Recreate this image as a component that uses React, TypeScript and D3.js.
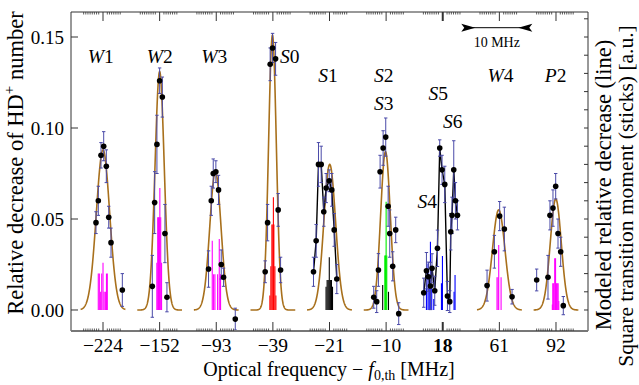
import React, { useEffect, useRef } from 'react';
import * as d3 from 'd3';

const W = 639;
const H = 385;
const FONT = "'Liberation Serif', 'Times New Roman', serif";

// segments of the broken frequency axis (MHz)
const segLabels = ['\u2212224', '\u2212152', '\u221293', '\u221239', '\u221221', '\u221210', '18', '61', '92'];

// modeled line (Gaussian): amplitude, centre offset [MHz], sigma [MHz]; null = no line
const lineAmp = [0.088, 0.131, 0.076, 0.151, 0.080, 0.087, null, 0.055, 0.061];
const lineCenter = [0, 0, -0.2, -0.1, 0.05, -0.15, null, -0.15, -0.05];
const lineSigma = [1.55, 1.07, 1.3, 0.9, 1.37, 1.12, null, 1.45, 1.28];

// measured points: [offset MHz, relative decrease, error]
const w1Points = [[-1.63, 0.048, 0.006], [-1.09, 0.060, 0.008], [-0.47, 0.085, 0.007], [0.16, 0.090, 0.008], [0.77, 0.079, 0.009], [1.33, 0.051, 0.006], [1.86, 0.037, 0.008], [4.49, 0.011, 0.009]];
const w2Points = [[-1.7, 0.013, 0.017], [-1.16, 0.059, 0.017], [-0.63, 0.091, 0.016], [0, 0.126, 0.007], [0.63, 0.117, 0.011], [1.23, 0.042, 0.016], [1.7, 0.007, 0.008]];
const w3Points = [[-1.79, 0.0225, 0.010], [-1.16, 0.060, 0.008], [-0.70, 0.075, 0.008], [-0.09, 0.076, 0.006], [0.53, 0.066, 0.008], [1.16, 0.025, 0.008], [1.70, 0.018, 0.005], [4.42, -0.005, 0.006]];
const s0Points = [[-1.79, 0.021, 0.006], [-1.23, 0.048, 0.010], [-0.63, 0.135, 0.009], [-0.07, 0.144, 0.008], [0.63, 0.138, 0.009], [1.23, 0.055, 0.009], [1.79, 0.022, 0.007]];
const s1Points = [[-3.72, 0.021, 0.008], [-3.10, 0.038, 0.009], [-2.56, 0.080, 0.012], [-1.93, 0.080, 0.010], [-1.33, 0.054, 0.008], [-0.77, 0.067, 0.008], [-0.07, 0.071, 0.006], [0.53, 0.066, 0.009], [1.09, 0.044, 0.009], [1.70, 0.017, 0.008]];
const s2Points = [[-2.88, 0.007, 0.006], [-2.19, 0.0046, 0.006], [-1.79, 0.022, 0.009], [-1.40, 0.076, 0.009], [-0.70, 0.089, 0.0095], [-0.09, 0.095, 0.0105], [0.47, 0.057, 0.011], [0.84, 0.042, 0.013], [1.53, 0.024, 0.008], [2.23, 0.044, 0.007], [2.93, -0.002, 0.006]];
const s4Points = [[-4.42, 0.0095, 0.008], [-3.79, 0.0216, 0.010], [-3.33, 0.0183, 0.008], [-2.86, 0.0132, 0.013], [-2.49, 0.0229, 0.008], [-1.86, 0.0106, 0.008], [-1.23, 0.0339, 0.010], [-0.70, 0.089, 0.0045], [-0.16, 0.077, 0.008], [0.47, 0.069, 0.010], [1.09, 0.0077, 0.008], [1.63, 0.0046, 0.006], [1.86, 0.043, 0.010], [2.16, 0.052, 0.010], [2.56, 0.077, 0.016], [2.95, 0.060, 0.010], [3.42, 0.052, 0.008]];
const w4Points = [[-2.86, 0.0134, 0.0085], [-1.16, 0.032, 0.009], [0.07, 0.0516, 0.008], [1.16, 0.0445, 0.012], [2.95, 0.0073, 0.004]];
const p2Points = [[-4.49, 0.0165, 0.006], [-1.86, 0.018, 0.012], [-1.40, 0.052, 0.008], [-0.70, 0.056, 0.010], [-0.07, 0.068, 0.007], [0.47, 0.042, 0.008], [1.09, 0.032, 0.008], [1.70, 0.0024, 0.005]];
const segPoints = [w1Points, w2Points, w3Points, s0Points, s1Points, s2Points, s4Points, w4Points, p2Points];
// segments whose points are joined by a black line
const joined = [false, false, false, false, true, false, true, false, false];

// square transition moments: [offset MHz, height]
const w1Sticks = [[-1.1, 0.020], [-0.85, 0.020], [-0.55, 0.010], [-0.3, 0.020], [0, 0.026], [0.25, 0.010], [0.55, 0.010], [0.8, 0.020], [1.0, 0.020]];
const w2Sticks = [[-0.65, 0.026], [-0.45, 0.051], [-0.25, 0.051], [-0.05, 0.051], [0.05, 0.067], [0.25, 0.051], [0.45, 0.026]];
const w3Sticks = [[-0.93, 0.038], [-0.62, 0.0196], [-0.31, 0.0196], [0.31, 0.0196], [0.7, 0.039], [1.0, 0.0196]];
const s0Sticks = [[-0.7, 0.008], [-0.47, 0.024], [-0.23, 0.047], [0, 0.047], [0.12, 0.062], [0.23, 0.047], [0.47, 0.024], [0.7, 0.008]];
const s1Sticks = [[-0.8, 0.0128], [-0.55, 0.0165], [-0.3, 0.0165], [-0.05, 0.029], [0.2, 0.0165], [0.45, 0.0165], [0.7, 0.0128]];
const s2Sticks = [[-0.3, 0.030], [-0.15, 0.030], [0, 0.0595], [0.15, 0.030]];
const s2BlackSticks = [[-0.8, 0.0137], [0.55, 0.010]];
const s4Sticks = [[-3.79, 0.015], [-3.42, 0.0256], [-3.14, 0.018], [-2.86, 0.0375], [-2.56, 0.012], [-2.09, 0.006], [-0.30, 0.0147], [-0.07, 0.0297], [2.63, 0.010], [2.86, 0.0192]];
const w4Sticks = [[-0.55, 0.018], [-0.3, 0.018], [-0.15, 0.0357], [0.4, 0.018]];
const p2Sticks = [[-0.85, 0.003], [-0.75, 0.0147], [-0.55, 0.0147], [-0.3, 0.0284], [-0.1, 0.0284], [0.1, 0.0147], [0.3, 0.0147], [0.5, 0.0147], [0.65, 0.005]];
const segSticks = [w1Sticks, w2Sticks, w3Sticks, s0Sticks, s1Sticks, s2Sticks, s4Sticks, w4Sticks, p2Sticks];
const stickColors = ['#ff00ff', '#ff00ff', '#ff00ff', '#ff0000', '#000000', '#00ee00', '#0000ff', '#ff00ff', '#ff00ff'];

// transition labels: [letter, number, segment, offset MHz, value]
const transLabels: [string, string, number, number, number][] = [
  ['W', '1', 0, -0.55, 0.1357], ['W', '2', 1, 0, 0.1357], ['W', '3', 2, -0.45, 0.1357],
  ['S', '0', 3, 3.95, 0.1357], ['S', '1', 4, -0.35, 0.1253], ['S', '2', 5, -0.55, 0.1253],
  ['S', '3', 5, -0.55, 0.1099], ['S', '5', 6, -1.05, 0.1154], ['S', '6', 6, 2.35, 0.1],
  ['S', '4', 6, -3.6, 0.056], ['W', '4', 7, 0.25, 0.1253], ['P', '2', 8, -0.1, 0.1253],
];

const App: React.FC = () => {
  const svgRef = useRef<SVGSVGElement>(null);

  useEffect(() => {
    if (!svgRef.current) return;
    const svg = d3.select(svgRef.current);
    svg.selectAll('*').remove();

    const left = 71, right = 588, top = 12, bottom = 331;

    const y = d3.scaleLinear().domain([-0.01154, 0.16374]).range([bottom, top]);
    const seg = d3.scaleBand<number>().domain(d3.range(segLabels.length)).range([74.7, 584.3]).padding(0);
    const bw = seg.bandwidth();
    const halfSpan = 6.58;
    const inner = d3.scaleLinear().domain([-halfSpan, halfSpan]).range([-bw / 2, bw / 2]);
    const xAt = (i: number, f: number) => (seg(i) as number) + bw / 2 + inner(f);

    svg.append('rect').attr('width', W).attr('height', H).attr('fill', '#fff');

    // sticks
    segSticks.forEach((st, i) => {
      svg.append('g').selectAll('line').data(st).enter().append('line')
        .attr('x1', d => xAt(i, d[0])).attr('x2', d => xAt(i, d[0]))
        .attr('y1', y(0)).attr('y2', d => y(d[1]))
        .attr('stroke', stickColors[i]).attr('stroke-width', 1.1);
    });
    svg.append('g').selectAll('line').data(s2BlackSticks).enter().append('line')
      .attr('x1', d => xAt(5, d[0])).attr('x2', d => xAt(5, d[0]))
      .attr('y1', y(0)).attr('y2', d => y(d[1]))
      .attr('stroke', '#000').attr('stroke-width', 1.1);

    // modeled lines
    const fs = d3.range(-5.2, 5.2001, 0.05);
    lineAmp.forEach((a, i) => {
      if (a === null) return;
      const c = lineCenter[i] as number, s = lineSigma[i] as number;
      const line = d3.line<number>()
        .x(f => xAt(i, f))
        .y(f => y(a * Math.exp(-((f - c) ** 2) / (2 * s * s))));
      svg.append('path').attr('d', line(fs)).attr('fill', 'none')
        .attr('stroke', '#a8701c').attr('stroke-width', 1.6);
    });

    // black joining lines
    segPoints.forEach((pts, i) => {
      if (!joined[i]) return;
      const line = d3.line<number[]>().x(d => xAt(i, d[0])).y(d => y(d[1]));
      svg.append('path').attr('d', line(pts)).attr('fill', 'none')
        .attr('stroke', '#000').attr('stroke-width', 1.4);
    });

    // error bars + points
    const errColor = '#4a4aa8';
    segPoints.forEach((pts, i) => {
      const g = svg.append('g');
      pts.forEach(d => {
        const px = xAt(i, d[0]);
        g.append('line').attr('x1', px).attr('x2', px).attr('y1', y(d[1] - d[2])).attr('y2', y(d[1] + d[2]))
          .attr('stroke', errColor).attr('stroke-width', 1);
        [d[1] - d[2], d[1] + d[2]].forEach(v => {
          g.append('line').attr('x1', px - 1.7).attr('x2', px + 1.7).attr('y1', y(v)).attr('y2', y(v))
            .attr('stroke', errColor).attr('stroke-width', 1);
        });
      });
      g.selectAll('circle').data(pts).enter().append('circle')
        .attr('cx', d => xAt(i, d[0])).attr('cy', d => y(d[1])).attr('r', 2.8).attr('fill', '#000');
    });

    // frame
    const frame = svg.append('g').attr('stroke', '#333').attr('fill', 'none');
    frame.append('line').attr('x1', left).attr('x2', right).attr('y1', top).attr('y2', top).attr('stroke-width', 1);
    frame.append('line').attr('x1', right).attr('x2', right).attr('y1', top).attr('y2', bottom).attr('stroke-width', 1);
    frame.append('line').attr('x1', left).attr('x2', left).attr('y1', top).attr('y2', bottom).attr('stroke-width', 1);
    frame.append('line').attr('x1', left).attr('x2', right).attr('y1', bottom).attr('y2', bottom)
      .attr('stroke', '#777').attr('stroke-width', 2);

    // x ticks, top and bottom
    const minorF = d3.range(-9, 9).map(k => k * 0.5).filter(f => Math.abs(f) > 0.6);
    segLabels.forEach((lab, i) => {
      const cx = xAt(i, 0);
      const bold = lab === '18';
      [[bottom, -1], [top, 1]].forEach(([y0, dir]) => {
        frame.append('line').attr('x1', cx).attr('x2', cx).attr('y1', y0).attr('y2', y0 + dir * 9)
          .attr('stroke', '#333').attr('stroke-width', bold ? 2 : 1);
        minorF.forEach(f => {
          frame.append('line').attr('x1', xAt(i, f)).attr('x2', xAt(i, f)).attr('y1', y0).attr('y2', y0 + dir * 2.5)
            .attr('stroke', '#333').attr('stroke-width', 0.8);
        });
      });
      svg.append('text').attr('x', cx).attr('y', 352).attr('text-anchor', 'middle')
        .attr('font-family', FONT).attr('font-size', 19.5).attr('font-weight', bold ? 'bold' : 'normal')
        .text(lab);
    });

    // y ticks
    [0, 0.05, 0.10, 0.15].forEach(v => {
      frame.append('line').attr('x1', left).attr('x2', left + 7).attr('y1', y(v)).attr('y2', y(v));
      svg.append('text').attr('x', 64).attr('y', y(v) + 7).attr('text-anchor', 'end')
        .attr('font-family', FONT).attr('font-size', 19).text(v.toFixed(2));
    });
    d3.range(0, 17).forEach(k => {
      const v = k * 0.01;
      frame.append('line').attr('x1', right).attr('x2', right - 4).attr('y1', y(v)).attr('y2', y(v));
    });

    // transition labels
    transLabels.forEach(([l, n, i, f, v]) => {
      const t = svg.append('text').attr('x', xAt(i, f)).attr('y', y(v)).attr('text-anchor', 'middle')
        .attr('font-family', FONT).attr('font-size', 19.5);
      t.append('tspan').attr('font-style', 'italic').text(l);
      t.append('tspan').text(n);
    });

    // 10 MHz scale bar
    const bx0 = xAt(7, -5.6), bx1 = xAt(7, 4.4), by = 27.7;
    svg.append('line').attr('x1', bx0 - 10).attr('x2', bx1 + 10).attr('y1', by).attr('y2', by)
      .attr('stroke', '#000').attr('stroke-width', 1);
    svg.append('path')
      .attr('d', `M${bx0},${by} L${bx0 - 14},${by - 4} L${bx0 - 11},${by} L${bx0 - 14},${by + 4} Z`)
      .attr('fill', '#000');
    svg.append('path')
      .attr('d', `M${bx1},${by} L${bx1 + 14},${by - 4} L${bx1 + 11},${by} L${bx1 + 14},${by + 4} Z`)
      .attr('fill', '#000');
    svg.append('text').attr('x', (bx0 + bx1) / 2).attr('y', 47).attr('text-anchor', 'middle')
      .attr('font-family', FONT).attr('font-size', 14).text('10 MHz');

    // axis titles
    const xt = svg.append('text').attr('x', 329).attr('y', 376).attr('text-anchor', 'middle')
      .attr('font-family', FONT).attr('font-size', 20);
    xt.append('tspan').text('Optical frequency \u2212 ');
    xt.append('tspan').attr('font-style', 'italic').text('f');
    xt.append('tspan').attr('font-size', 14).attr('dy', 4).text('0,th');
    xt.append('tspan').attr('dy', -4).text(' [MHz]');

    const yt = svg.append('text').attr('transform', 'translate(23,163) rotate(-90)').attr('text-anchor', 'middle')
      .attr('font-family', FONT).attr('font-size', 22.5);
    yt.append('tspan').text('Relative decrease of HD');
    yt.append('tspan').attr('font-size', 15).attr('dy', -9).text('+');
    yt.append('tspan').attr('dy', 9).text(' number');

    svg.append('text').attr('transform', 'translate(611,185) rotate(-90)').attr('text-anchor', 'middle')
      .attr('font-family', FONT).attr('font-size', 22.5).text('Modeled relative decrease (line)');
    svg.append('text').attr('transform', 'translate(633,196) rotate(-90)').attr('text-anchor', 'middle')
      .attr('font-family', FONT).attr('font-size', 21.5).text('Square transition moment (sticks) [a.u.]');
  }, []);

  return (
    <svg
      ref={svgRef}
      width={W}
      height={H}
      style={{ position: 'absolute', left: 0, top: 0, display: 'block' }}
    />
  );
};

export default App;
